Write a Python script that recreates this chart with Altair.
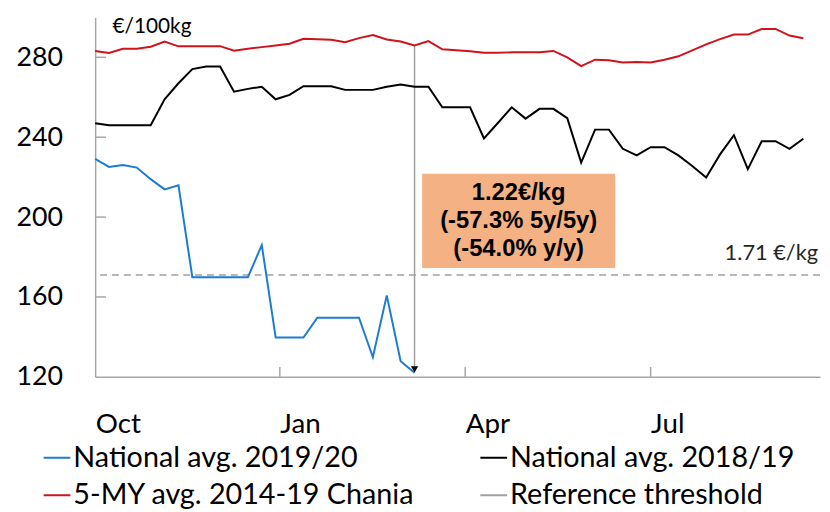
import altair as alt
import pandas as pd

# ---------------- data ----------------
weeks = list(range(52))

nat_2019_20 = [229.1, 225.1, 226.1, 224.8, 219.0, 213.9, 215.9, 169.9, 169.9, 169.9,
               169.9, 169.9, 186.0, 139.7, 139.7, 139.7, 149.6, 149.6, 149.6, 149.6,
               129.8, 160.8, 127.8, 122.0]

nat_2018_19 = [247.0, 246.0, 246.0, 246.0, 246.0, 259.0, 267.0, 274.1, 275.4, 275.4,
               262.8, 264.2, 265.3, 259.0, 261.2, 265.5, 265.5, 265.5, 263.7, 263.7,
               263.7, 265.3, 266.4, 265.3, 265.3, 255.0, 255.0, 255.0, 239.4, 247.1,
               255.0, 249.3, 254.2, 254.2, 249.5, 227.3, 243.8, 243.8, 234.2, 230.9,
               235.0, 235.0, 230.9, 225.6, 219.8, 231.4, 241.0, 224.0, 238.0, 238.0,
               234.2, 239.2]

chania_5y = [283.2, 282.2, 284.3, 284.3, 285.3, 287.9, 285.5, 285.5, 285.5, 285.6,
             283.3, 284.3, 285.1, 285.9, 286.8, 289.3, 289.1, 288.8, 287.6, 289.6,
             291.2, 288.9, 287.9, 285.9, 288.1, 284.0, 283.5, 283.0, 282.3, 282.3,
             282.5, 282.5, 282.5, 283.2, 280.0, 275.6, 278.8, 278.5, 277.4, 277.7,
             277.4, 278.8, 280.5, 283.5, 286.5, 289.1, 291.4, 291.4, 294.2, 294.2,
             290.9, 289.6]

threshold = 171.0

series_names = ["National avg. 2019/20", "National avg. 2018/19",
                "5-MY avg. 2014-19 Chania", "Reference threshold"]
series_colors = ["#1B7CD2", "#000000", "#D0121B", "#A0A0A0"]
# legend is filled column by column: 2019/20 & Chania left, 2018/19 & threshold right
legend_order = [0, 2, 1, 3]

tick_weeks = [0, 13.3, 26.65, 40]
tick_labels = ["Oct", "Jan", "Apr", "Jul"]
y_ticks = [120, 160, 200, 240, 280]

unit_label = "€/100kg"
threshold_label = "1.71 €/kg"
annotation_text = "1.22€/kg\n(-57.3% 5y/5y)\n(-54.0% y/y)"

# annotation anchors (data units)
arrow_week = 23
box_weeks = (23.55, 37.45)
box_values = (174.5, 221.7)

# ---------------- tables ----------------
rows = []
for name, vals in [(series_names[0], nat_2019_20),
                   (series_names[1], nat_2018_19),
                   (series_names[2], chania_5y)]:
    for w, v in zip(weeks, vals):
        rows.append({"series": name, "week": w, "value": v})
df_lines = pd.DataFrame(rows)

df_thr = pd.DataFrame({"series": [series_names[3]], "value": [threshold],
                       "label": [threshold_label]})
df_arrow = pd.DataFrame({"week": [arrow_week],
                         "value": [chania_5y[arrow_week]],
                         "value2": [nat_2019_20[arrow_week]]})
df_tip = pd.DataFrame({"week": [arrow_week], "value": [nat_2019_20[arrow_week]]})
df_box = pd.DataFrame({"week": [box_weeks[0]], "week2": [box_weeks[1]],
                       "value": [box_values[0]], "value2": [box_values[1]],
                       "label": [annotation_text],
                       "cx": [(box_weeks[0] + box_weeks[1]) / 2],
                       "cy": [(box_values[0] + box_values[1]) / 2]})
df_yt = pd.DataFrame({"value": y_ticks[1:]})
df_xt = pd.DataFrame({"week": tick_weeks[1:]})

W, H = 732, 363
GRAY = "#A6A6A6"

label_expr = "{}[indexof({}, datum.value)]".format(
    "[" + ",".join("'%s'" % t for t in tick_labels) + "]",
    "[" + ",".join(str(t) for t in tick_weeks) + "]")

xscale = alt.Scale(domain=[0, 52.2], nice=False, zero=False)
yscale = alt.Scale(domain=[120, 300], nice=False, zero=False)

xaxis = alt.Axis(values=tick_weeks, labelExpr=label_expr, ticks=False, tickSize=0,
                 grid=False, domainColor=GRAY, domainWidth=1.5, labelAlign="left",
                 labelBaseline="alphabetic", labelPadding=56, labelFlush=False,
                 labelFont="Lato", labelFontSize=28, labelColor="#000000", title=None)
yaxis = alt.Axis(values=y_ticks, ticks=False, tickSize=0, grid=False,
                 domainColor=GRAY, domainWidth=1.5, labelPadding=33,
                 labelFont="Lato", labelFontSize=27, labelColor="#000000",
                 title=unit_label, titleAngle=0, titleAlign="left",
                 titleBaseline="alphabetic", titleX=17, titleY=15,
                 titleFont="Lato", titleFontSize=21, titleFontWeight="normal",
                 titleColor="#000000")

X = alt.X("week:Q", scale=xscale, axis=xaxis)
Y = alt.Y("value:Q", scale=yscale, axis=yaxis)

color = alt.Color("series:N",
                  scale=alt.Scale(domain=[series_names[i] for i in legend_order],
                                  range=[series_colors[i] for i in legend_order]),
                  legend=alt.Legend(orient="none", legendX=-53, legendY=430,
                                    columns=2, columnPadding=62, rowPadding=8,
                                    symbolType="stroke", symbolSize=729,
                                    symbolStrokeWidth=2, symbolDash=[1, 0],
                                    labelOffset=2, labelFont="Lato",
                                    labelFontSize=29, labelColor="#000000",
                                    labelLimit=0, padding=0, title=None))

box = alt.Chart(df_box).mark_rect(color="#F4B183").encode(
    x=X, x2=alt.X2("week2:Q"), y=Y, y2=alt.Y2("value2:Q"))

box_text = alt.Chart(df_box).mark_text(
    font="Liberation Sans", fontSize=24, fontWeight="bold", lineBreak="\n",
    lineHeight=28, align="center", baseline="middle", dy=-28,
    color="#000000").encode(
    x=alt.X("cx:Q", scale=xscale, axis=xaxis),
    y=alt.Y("cy:Q", scale=yscale, axis=yaxis), text="label:N")

thr = alt.Chart(df_thr).mark_rule(strokeDash=[7, 5], strokeWidth=1.5).encode(
    y=Y, color=color)

thr_text = alt.Chart(df_thr).mark_text(
    font="Lato", fontSize=22, align="right", baseline="alphabetic", dy=-15,
    color="#262626").encode(y=Y, x=alt.value(W - 2), text="label:N")

arrow = alt.Chart(df_arrow).mark_rule(color="#A0A0A0", strokeWidth=1.5).encode(
    x=X, y=Y, y2=alt.Y2("value2:Q"))

tip = alt.Chart(df_tip).mark_point(shape="triangle-down", filled=True, size=55,
                                   color="#000000", opacity=1, yOffset=-3.5).encode(x=X, y=Y)

lines = alt.Chart(df_lines).mark_line(strokeWidth=2).encode(
    x=X, y=Y, color=color, detail="series:N")

ytick_layer = alt.Chart(df_yt).mark_rule(color=GRAY, strokeWidth=1.5).encode(
    y=Y, x=alt.value(0), x2=alt.value(11))
xtick_layer = alt.Chart(df_xt).mark_rule(color=GRAY, strokeWidth=1.5).encode(
    x=X, y=alt.value(H - 10), y2=alt.value(H))

chart = alt.layer(box, box_text, thr, thr_text, arrow, lines, tip,
                  ytick_layer, xtick_layer).properties(
    width=W, height=H,
    autosize=alt.AutoSizeParams(type="none"),
    padding={"left": 88, "top": 7, "right": 2, "bottom": 134},
).configure_view(stroke=None)

chart.save("out.html", embed_options={"renderer": "svg", "actions": False})
